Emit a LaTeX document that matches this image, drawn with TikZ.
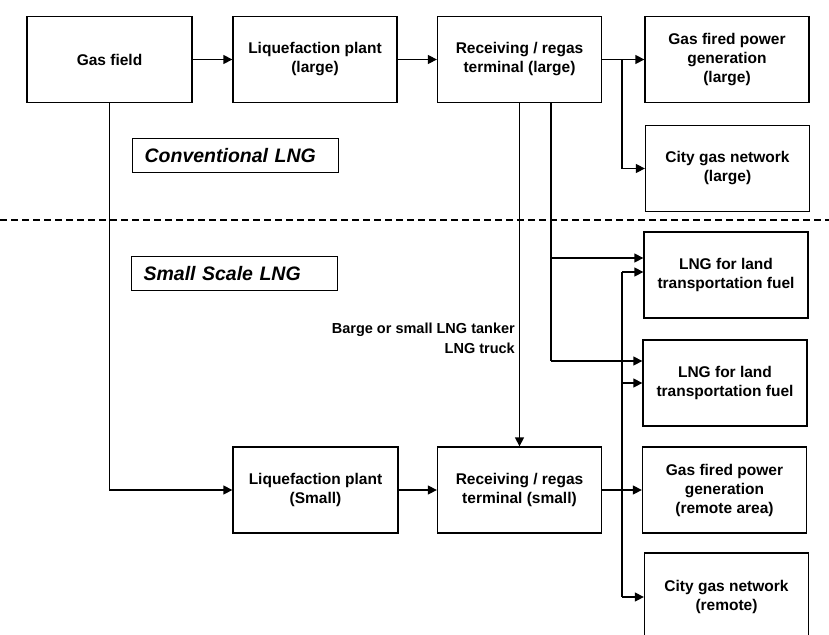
\documentclass[tikz,border=0pt]{standalone}
\usepackage{fontspec}
\setmainfont{Liberation Sans}
\usetikzlibrary{arrows.meta}
\begin{document}
\begin{tikzpicture}[x=1pt,y=-1pt,
  box/.style={draw, line width=1.3pt, minimum width=164pt, minimum height=86pt, align=center, inner sep=2pt, font=\fontsize{15.5}{19}\selectfont\bfseries},
  tag/.style={draw, line width=1.2pt, minimum height=34pt, text width=182pt, inner xsep=12pt, align=left, font=\fontsize{19.5}{22}\selectfont\bfseries\itshape},
  note/.style={align=right, inner sep=0pt, font=\fontsize{14.5}{20}\selectfont\bfseries},
  conn/.style={line width=1.3pt},
  arr/.style={conn, -{Triangle[length=9pt,width=9pt]}},
  divider/.style={line width=1.5pt, dash pattern=on 7pt off 4pt}]
\useasboundingbox (0,0) rectangle (829,634);
\clip (0,0) rectangle (829,634);
\fill[white] (0,0) rectangle (829,634);

% top row
\node[box, minimum width=165pt] (gf) at (109.5,59.5) {Gas field};
\node[box] (ll) at (315,59.5) {Liquefaction plant\\(large)};
\node[box] (rl) at (519.5,59.5) {Receiving / regas\\terminal (large)};
\node[box] (gl) at (727,59.5) {Gas fired power\\generation\\(large)};
\node[box] (cl) at (727.5,168.5) {City gas network\\(large)};

% right column lower
\node[box] (t1) at (726,275) {LNG for land\\transportation fuel};
\node[box] (t2) at (725,383) {LNG for land\\transportation fuel};
\node[box] (gr) at (724.5,490) {Gas fired power\\generation\\(remote area)};
\node[box, minimum height=88pt] (cr) at (726.5,597) {City gas network\\(remote)};

% bottom row
\node[box, minimum width=165pt] (ls) at (315.5,490) {Liquefaction plant\\(Small)};
\node[box] (rs) at (519.5,490) {Receiving / regas\\terminal (small)};

% tags
\node[tag, anchor=north west] (conv) at (132,138) {Conventional LNG};
\node[tag, anchor=north west] (ssl) at (131,256) {Small Scale LNG};

% divider
\draw[divider] (0,220) -- (829,220);

% label
\node[note, anchor=east] (barge) at (515,338) {Barge or small LNG tanker\\LNG truck};

% coordinates
\coordinate (j1) at (622,59.5);
\coordinate (b1) at (551,103);
\coordinate (b2) at (551,258);
\coordinate (b3) at (551,361);
\coordinate (c1) at (622,272);
\coordinate (c2) at (622,383);
\coordinate (c3) at (622,597);
\coordinate (g1) at (109.5,490);

% connectors
\draw[arr] (gf) -- (ll);
\draw[arr] (ll) -- (rl);
\draw[arr] (rl) -- (gl);
\draw[arr] (j1) |- (cl.west);
\draw[arr] (rl.south) -- (rs.north);
\draw[conn] (b1) -- (b3);
\draw[arr] (b2) -- (b2 -| t1.west);
\draw[arr] (b3) -- (b3 -| t2.west);
\draw[arr] (gf.south) -- (g1) -- (ls.west);
\draw[arr] (ls) -- (rs);
\draw[arr] (rs) -- (gr);
\draw[conn] (c1) -- (c3);
\draw[arr] (c1) -- (c1 -| t1.west);
\draw[arr] (c2) -- (c2 -| t2.west);
\draw[arr] (c3) -- (c3 -| cr.west);
\end{tikzpicture}
\end{document}
